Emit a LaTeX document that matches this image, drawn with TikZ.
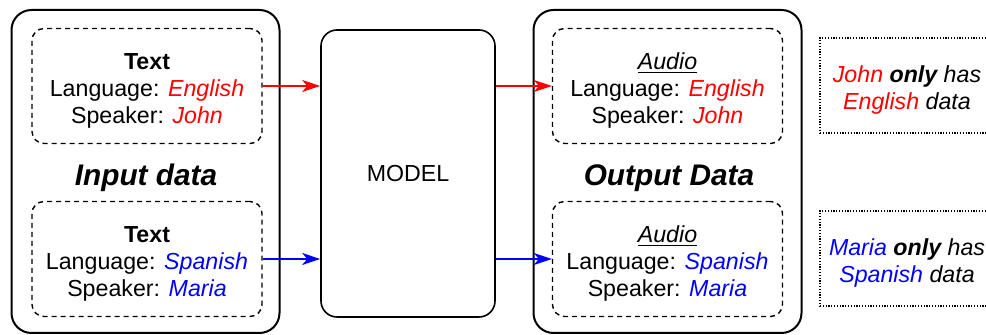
\documentclass[tikz,border=0pt]{standalone}
\usepackage{fontspec}
\setmainfont{Liberation Sans}
\usetikzlibrary{arrows.meta, positioning}
\definecolor{johnred}{RGB}{255, 0, 0}
\definecolor{mariablue}{RGB}{0, 0, 255}
% pushes a multi-line label a little lower in its box
\newcommand{\headstrut}{\rule{0pt}{12.5pt}}

\begin{document}
\begin{tikzpicture}[
    x=1pt, y=1pt,
    every node/.style={font=\fontsize{11.6}{13.5}\selectfont},
    group/.style={rectangle, draw, line width=1pt, rounded corners=10pt, minimum width=134pt, minimum height=161.5pt},
    sample/.style={rectangle, draw, dash pattern=on 2.5pt off 2pt, line width=0.7pt, rounded corners=6pt, minimum width=115pt, minimum height=57.5pt, align=center, inner sep=0pt},
    model/.style={rectangle, draw, line width=0.8pt, rounded corners=8pt, minimum width=87pt, minimum height=143.5pt},
    note/.style={rectangle, draw, dash pattern=on 0.6pt off 0.8pt, line width=0.6pt, minimum width=87pt, minimum height=47.5pt, align=center, inner sep=0pt, font=\fontsize{11.6}{13.5}\selectfont\itshape},
    title/.style={font=\fontsize{14.9}{17}\selectfont\bfseries\itshape},
    arrow/.style={-{Stealth[length=9pt, width=6pt, inset=2.5pt]}, line width=0.6pt}
]
    \clip (0,0) rectangle (493,-167.5);

    % left column: input samples
    \node[group] (input) at (72.75,-85.75) {};
    \node[sample] (textA) at (73.5,-43) {\headstrut\textbf{Text}\\Language: \textcolor{johnred}{\textit{English}}\\Speaker: \textcolor{johnred}{\textit{John}}};
    \node[sample] (textB) at (73.5,-129.5) {\headstrut\textbf{Text}\\Language: \textcolor{mariablue}{\textit{Spanish}}\\Speaker: \textcolor{mariablue}{\textit{Maria}}};
    \node[title] (inlabel) at (73,-89) {Input data};

    \node[model] (model) at (204,-86.75) {MODEL};

    % right column: generated audio
    \node[group] (output) at (333.75,-85.75) {};
    \node[sample] (audioA) at (333.75,-43) {\headstrut\underline{\textit{Audio}}\\Language: \textcolor{johnred}{\textit{English}}\\Speaker: \textcolor{johnred}{\textit{John}}};
    \node[sample] (audioB) at (333.75,-129.5) {\headstrut\underline{\textit{Audio}}\\Language: \textcolor{mariablue}{\textit{Spanish}}\\Speaker: \textcolor{mariablue}{\textit{Maria}}};
    \node[title] (outlabel) at (334.5,-89) {Output Data};

    % side notes
    \node[note] (noteA) at (453.5,-42.75) {\headstrut\textcolor{johnred}{John} \textbf{only} has\\\textcolor{johnred}{English} data};
    \node[note] (noteB) at (453.5,-129.25) {\headstrut\textcolor{mariablue}{Maria} \textbf{only} has\\\textcolor{mariablue}{Spanish} data};

    \draw[arrow, johnred] (textA.east) -- (textA.east -| model.west);
    \draw[arrow, johnred] (audioA.west -| model.east) -- (audioA.west);
    \draw[arrow, mariablue] (textB.east) -- (textB.east -| model.west);
    \draw[arrow, mariablue] (audioB.west -| model.east) -- (audioB.west);
\end{tikzpicture}
\end{document}
